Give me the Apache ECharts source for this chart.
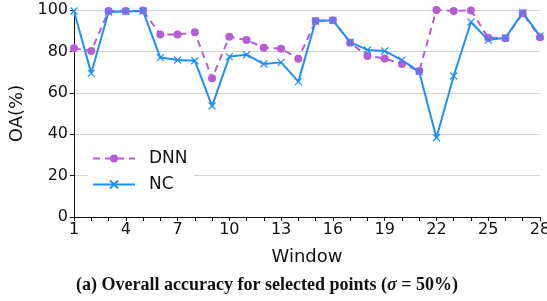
<!DOCTYPE html>
<html>
<head>
<meta charset="UTF-8">
<script src="https://cdn.jsdelivr.net/npm/echarts@6/dist/echarts.min.js"></script>
</head>
<body style="margin:0">
<div id="main" style="width:547px;height:301px"></div>
<script>
var windows = [];
for (var i = 1; i <= 28; i++) windows.push(String(i));
var dnn = [81.5, 80.2, 99.5, 99.5, 99.7, 88.2, 88.2, 89.2, 67, 87.1, 85.5, 81.8, 81.3, 76.5,
           94.7, 95, 84.2, 77.8, 76.6, 73.9, 70.5, 100, 99.5, 99.8, 86.6, 86.3, 98.4, 86.8];
var nc = [99.5, 69.4, 99, 99.3, 99.5, 77, 75.8, 75.5, 53.6, 77.5, 78.4, 73.9, 74.7, 65.4,
          94.7, 95, 84.5, 80.7, 80.2, 75.8, 70.2, 38.3, 68.1, 94.2, 85.5, 86.6, 98.7, 87.4];

var chart = echarts.init(document.getElementById('main'));
var sans = 'DejaVu Sans';
chart.setOption({
    animation: false,
    title: {
        text: '{b|(a) Overall accuracy for selected points (}{i|σ}{n| = 50%)}',
        left: 262, top: 271, textAlign: 'center',
        textStyle: {
            rich: {
                b: {fontFamily: 'Liberation Serif', fontWeight: 'bold', fontSize: 18, color: '#111'},
                i: {fontFamily: 'Liberation Serif', fontStyle: 'italic', fontSize: 18, color: '#111'},
                n: {fontFamily: 'Liberation Serif', fontSize: 18, color: '#111'}
            }
        }
    },
    grid: {left: 74, right: 7, top: 10, bottom: 84, outerBoundsMode: 'none'},
    legend: {
        orient: 'vertical', left: 88, top: 146,
        backgroundColor: '#fff', padding: [4, 6, 4, 4],
        itemWidth: 42, itemHeight: 10, itemGap: 9,
        textStyle: {fontFamily: sans, fontSize: 17, color: '#111', padding: [0, 0, 0, 9]},
        data: ['DNN', 'NC']
    },
    xAxis: {
        type: 'category', data: windows, boundaryGap: false,
        name: 'Window', nameLocation: 'middle', nameGap: 31,
        nameTextStyle: {fontFamily: sans, fontSize: 18, color: '#111'},
        axisLine: {lineStyle: {color: '#111', width: 1}},
        axisTick: {interval: 0, length: 4, lineStyle: {color: '#111'}},
        axisLabel: {interval: 2, fontFamily: sans, fontSize: 16, color: '#111', margin: 5}
    },
    yAxis: {
        type: 'value', min: 0, max: 100, interval: 20,
        name: 'OA(%)', nameLocation: 'middle', nameGap: 40,
        nameTextStyle: {fontFamily: sans, fontSize: 18, color: '#111'},
        axisLine: {show: true, lineStyle: {color: '#111', width: 1}},
        axisTick: {show: true, length: 4, lineStyle: {color: '#111'}},
        axisLabel: {fontFamily: sans, fontSize: 16, color: '#111', margin: 6},
        splitLine: {lineStyle: {color: '#d4d4d4', width: 1}}
    },
    series: [
        {
            name: 'DNN', type: 'line', data: dnn,
            symbol: 'circle', symbolSize: 8,
            lineStyle: {color: '#b85cd6', width: 2, type: [7, 5]},
            itemStyle: {color: '#b85cd6'}
        },
        {
            name: 'NC', type: 'line', data: nc,
            symbol: 'path://M0,0L10,10M10,0L0,10', symbolSize: 7,
            lineStyle: {color: '#1e8fff', width: 2},
            itemStyle: {color: 'none', borderColor: '#1e8fff', borderWidth: 1.2}
        }
    ]
});
</script>
</body>
</html>
